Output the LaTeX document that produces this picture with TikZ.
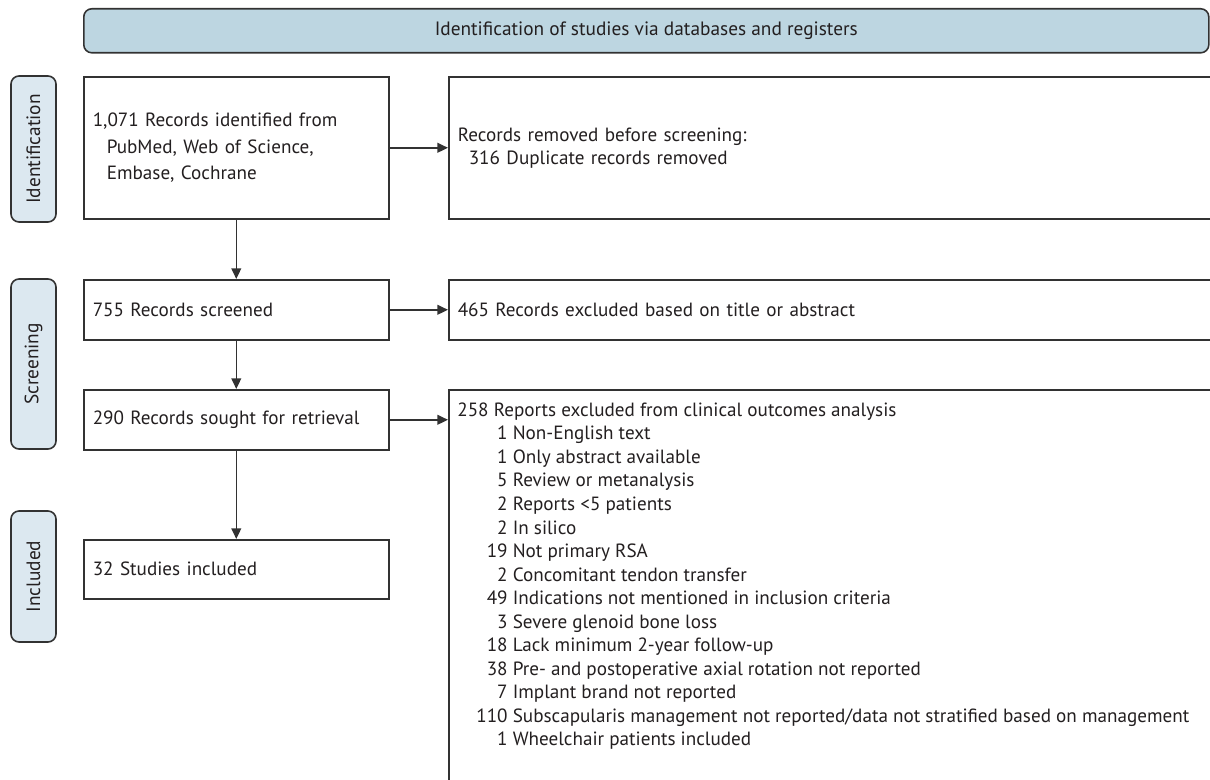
\documentclass[tikz,border=0pt]{standalone}
\usepackage{fontspec}
\setmainfont{PT Sans}
\usetikzlibrary{arrows.meta}
\newlength\pxl \setlength\pxl{0.02cm}
\definecolor{hdr}{RGB}{189,214,225}
\definecolor{lbl}{RGB}{220,232,240}
\definecolor{edge}{RGB}{50,50,50}
\definecolor{txt}{RGB}{35,31,32}
\tikzset{
  lbox/.style={draw=edge, line width=0.9pt, fill=white, text=txt, anchor=north west,
    inner xsep=9\pxl, inner ysep=0pt, align=left, text width=287\pxl, minimum width=305\pxl,
    font=\fontsize{10.9}{15}\selectfont},
  rbox/.style={draw=edge, line width=0.9pt, fill=white, text=txt, anchor=north west,
    inner xsep=9\pxl, inner ysep=0pt, align=left, text width=782\pxl, minimum width=800\pxl,
    font=\fontsize{10.9}{13.2}\selectfont},
  stage/.style={draw=edge, line width=0.9pt, fill=lbl, rounded corners=8\pxl, rotate=90,
    minimum height=45\pxl, inner sep=0pt, text=txt, font=\fontsize{11}{12}\selectfont},
  arr/.style={draw=edge, line width=0.9pt, -{Triangle[length=6pt,width=5.5pt]}},
}
\begin{document}
\begin{tikzpicture}[x=0.02cm, y=-0.02cm]
\useasboundingbox (0,0) rectangle (1210,780);
\clip (0,0) rectangle (1210,780);

% header
\node[draw=edge, line width=0.9pt, fill=hdr, rounded corners=8\pxl, anchor=north west,
  minimum width=1125\pxl, minimum height=44\pxl, inner sep=0pt, text=txt,
  font=\fontsize{11}{12}\selectfont] (hdr) at (83,8) {Identification of studies via databases and registers};

% stage labels
\node[stage, minimum width=146\pxl] (sid) at (33.5,149) {Identification};
\node[stage, minimum width=170\pxl] (sscr) at (33.5,364) {Screening};
\node[stage, minimum width=131\pxl] (sinc) at (33.5,576.5) {Included};

% left column
\node[lbox, minimum height=142\pxl] (id) at (83,76)
  {1,071 Records identified from\\\hspace*{14\pxl}PubMed, Web of Science,\\\hspace*{14\pxl}Embase, Cochrane};
\node[lbox, minimum height=60\pxl] (scr) at (83,279) {755 Records screened};
\node[lbox, minimum height=60\pxl] (ret) at (83,389) {290 Records sought for retrieval};
\node[lbox, minimum height=59\pxl] (inc) at (83,539) {32 Studies included};

% right column
\node[rbox, minimum height=142\pxl] (rem) at (448,76)
  {Records removed before screening:\\\hspace*{11\pxl}316 Duplicate records removed};
\node[rbox, minimum height=60\pxl] (ex1) at (448,279) {465 Records excluded based on title or abstract};
\node[rbox, minimum height=440\pxl] (ex3) at (448,389) {};
\node[anchor=north west, inner sep=0pt, text=txt, font=\fontsize{10.9}{13.4}\selectfont] (ex3t) at (457,399.5)
  {\begin{tabular}{@{\hspace*{19\pxl}}r@{\ }l@{}}
   \multicolumn{2}{@{}l@{}}{258 Reports excluded from clinical outcomes analysis}\\
   1 & Non-English text\\
   1 & Only abstract available\\
   5 & Review or metanalysis\\
   2 & Reports <5 patients\\
   2 & In silico\\
   19 & Not primary RSA\\
   2 & Concomitant tendon transfer\\
   49 & Indications not mentioned in inclusion criteria\\
   3 & Severe glenoid bone loss\\
   18 & Lack minimum 2-year follow-up\\
   38 & Pre- and postoperative axial rotation not reported\\
   7 & Implant brand not reported\\
   110 & Subscapularis management not reported/data not stratified based on management\\
   1 & Wheelchair patients included
  \end{tabular}};

% connectors
\draw[arr] (id.east) -- (rem.west);
\draw[arr] (id.south) -- (scr.north);
\draw[arr] (scr.east) -- (ex1.west);
\draw[arr] (scr.south) -- (ret.north);
\draw[arr] (ret.east) -- (ret.east -| ex3.west);
\draw[arr] (ret.south) -- (inc.north);
\end{tikzpicture}
\end{document}
